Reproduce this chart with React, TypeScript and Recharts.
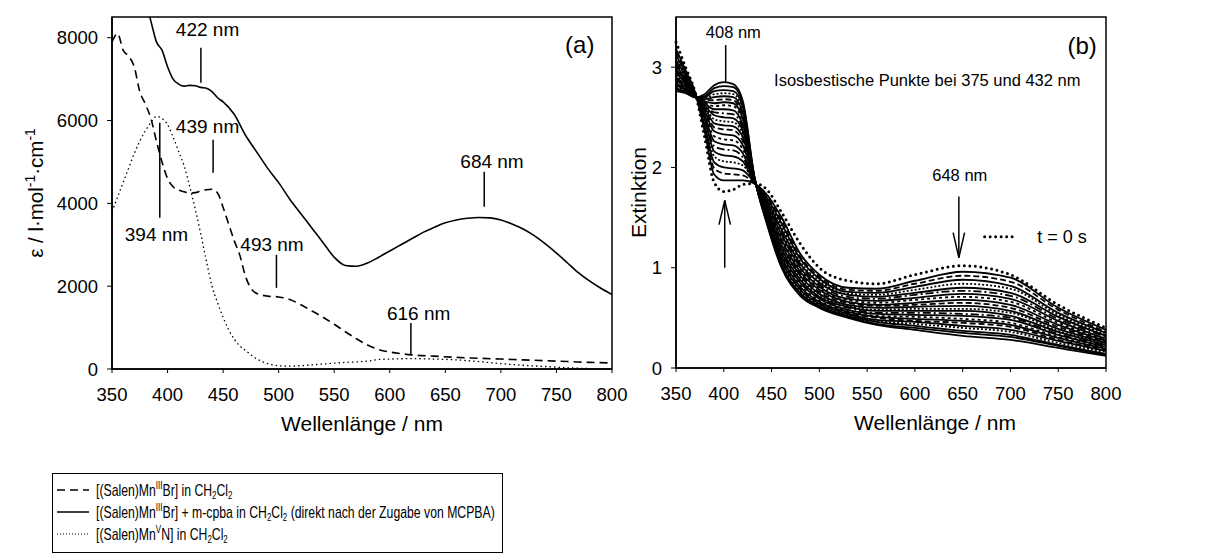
import { LineChart, Line, XAxis, YAxis, ReferenceLine, ReferenceDot, ReferenceArea, Label } from "recharts"

const FONT = '"Liberation Sans", Arial, Helvetica, sans-serif'

// ---- panel (a): molar absorptivity
const ticksA = [350, 400, 450, 500, 550, 600, 650, 700, 750, 800]
const ticksEps = [0, 2000, 4000, 6000, 8000]

const wlDashed = [350, 355, 360, 365, 370, 375, 380, 385, 390, 395, 400, 405, 410, 415, 420, 425, 430, 435, 440, 445, 450, 455, 460, 465, 470, 475, 480, 490, 500, 510, 520, 530, 540, 550, 560, 570, 580, 590, 600, 610, 620, 640, 660, 680, 700, 720, 740, 760, 780, 800]
const epsDashed = [7900, 8100, 7700, 7550, 7300, 6700, 6400, 6050, 5500, 5000, 4600, 4400, 4320, 4280, 4250, 4260, 4300, 4330, 4340, 4250, 3900, 3500, 3100, 2750, 2250, 1950, 1830, 1760, 1740, 1680, 1550, 1400, 1250, 1080, 900, 730, 580, 470, 410, 370, 340, 310, 280, 260, 240, 220, 200, 180, 160, 145]

const wlSolid = [380, 385, 390, 395, 400, 405, 410, 415, 420, 425, 430, 435, 440, 445, 450, 460, 470, 480, 490, 500, 510, 520, 530, 540, 550, 560, 570, 580, 590, 600, 610, 620, 630, 640, 650, 660, 670, 680, 690, 700, 710, 720, 730, 740, 750, 760, 770, 780, 790, 800]
const epsSolid = [8900, 8400, 7900, 7700, 7300, 7000, 6880, 6830, 6850, 6840, 6800, 6780, 6700, 6550, 6450, 6150, 5650, 5250, 4850, 4500, 4100, 3750, 3400, 3050, 2700, 2500, 2480, 2560, 2700, 2850, 3000, 3150, 3300, 3420, 3530, 3600, 3640, 3660, 3650, 3600, 3500, 3380, 3220, 3020, 2800, 2560, 2320, 2120, 1950, 1800]

const wlDotted = [350, 355, 360, 365, 370, 375, 380, 385, 390, 395, 400, 405, 410, 415, 420, 425, 430, 435, 440, 445, 450, 455, 460, 465, 470, 480, 490, 500, 510, 520, 530, 540, 550, 560, 570, 580, 590, 600, 620, 640, 660, 680, 700, 720, 740, 760, 780, 800]
const epsDotted = [3800, 4150, 4500, 4850, 5200, 5500, 5750, 5950, 6100, 6050, 5900, 5600, 5250, 4900, 4400, 3850, 3250, 2600, 2000, 1600, 1250, 950, 720, 560, 450, 250, 130, 80, 70, 80, 100, 120, 140, 160, 170, 190, 230, 240, 250, 240, 220, 180, 130, 90, 60, 30, 10, 0]

// peak marks in (a): label position, tick line x, line top / bottom
const marksA = [
  { text: "422 nm", tx: 436, ty: 8197, lx: 430, y1: 7760, y2: 6915 },
  { text: "439 nm", tx: 436, ty: 5852, lx: 441, y1: 5537, y2: 4740 },
  { text: "394 nm", tx: 390, ty: 3264, lx: 393, y1: 5948, y2: 3651 },
  { text: "493 nm", tx: 494, ty: 3022, lx: 498, y1: 2757, y2: 1959 },
  { text: "616 nm", tx: 626, ty: 1354, lx: 619, y1: 1112, y2: 339 },
  { text: "684 nm", tx: 692, ty: 5005, lx: 685, y1: 4764, y2: 3917 },
]

// ---- panel (b): spectra recorded over time
const ticksB = [350, 400, 450, 500, 550, 600, 650, 700, 750, 800]
const ticksExt = [0, 1, 2, 3]
const wlB = [350, 360, 370, 380, 390, 400, 410, 420, 432, 445, 460, 480, 500, 530, 560, 600, 650, 700, 750, 800]
// t = 0 spectrum (dotted)
const extT0 = [3.25, 3.0, 2.75, 2.3, 1.85, 1.76, 1.78, 1.83, 1.84, 1.78, 1.56, 1.24, 1.0, 0.87, 0.84, 0.93, 1.02, 0.93, 0.63, 0.4]
// later spectra, one list per wavelength of wlB (first spectrum -> last spectrum)
const extLater = [
  [3.18, 3.15, 3.12, 3.1, 3.07, 3.05, 3.02, 3.0, 2.98, 2.96, 2.94, 2.92, 2.9, 2.89, 2.87, 2.86, 2.84, 2.83, 2.82, 2.8, 2.79, 2.78, 2.76],
  [2.97, 2.95, 2.94, 2.92, 2.91, 2.9, 2.88, 2.87, 2.86, 2.85, 2.84, 2.83, 2.82, 2.81, 2.8, 2.79, 2.78, 2.78, 2.77, 2.76, 2.75, 2.75, 2.74],
  [2.75, 2.75, 2.74, 2.74, 2.74, 2.73, 2.73, 2.73, 2.73, 2.72, 2.72, 2.72, 2.72, 2.71, 2.71, 2.71, 2.71, 2.71, 2.7, 2.7, 2.7, 2.7, 2.7],
  [2.36, 2.39, 2.42, 2.45, 2.48, 2.5, 2.52, 2.54, 2.56, 2.58, 2.6, 2.61, 2.62, 2.63, 2.64, 2.65, 2.66, 2.67, 2.68, 2.69, 2.7, 2.71, 2.73],
  [1.93, 1.99, 2.05, 2.11, 2.16, 2.21, 2.26, 2.31, 2.36, 2.4, 2.44, 2.48, 2.52, 2.55, 2.58, 2.61, 2.64, 2.67, 2.7, 2.73, 2.76, 2.79, 2.82],
  [1.87, 1.94, 2.0, 2.06, 2.12, 2.18, 2.23, 2.28, 2.33, 2.38, 2.42, 2.46, 2.5, 2.54, 2.58, 2.62, 2.65, 2.68, 2.71, 2.74, 2.77, 2.81, 2.85],
  [1.87, 1.93, 1.99, 2.05, 2.11, 2.17, 2.22, 2.27, 2.32, 2.37, 2.41, 2.45, 2.49, 2.53, 2.57, 2.61, 2.64, 2.67, 2.7, 2.73, 2.76, 2.8, 2.83],
  [1.87, 1.92, 1.97, 2.02, 2.06, 2.1, 2.14, 2.18, 2.22, 2.26, 2.3, 2.33, 2.36, 2.39, 2.42, 2.45, 2.48, 2.51, 2.54, 2.57, 2.6, 2.63, 2.66],
  [1.84, 1.84, 1.85, 1.85, 1.85, 1.86, 1.86, 1.86, 1.87, 1.87, 1.87, 1.88, 1.88, 1.88, 1.89, 1.89, 1.89, 1.9, 1.9, 1.9, 1.9, 1.91, 1.91],
  [1.73, 1.71, 1.7, 1.68, 1.67, 1.65, 1.64, 1.62, 1.61, 1.6, 1.58, 1.57, 1.56, 1.54, 1.53, 1.52, 1.51, 1.5, 1.49, 1.48, 1.47, 1.45, 1.44],
  [1.51, 1.48, 1.45, 1.42, 1.39, 1.36, 1.34, 1.31, 1.29, 1.26, 1.24, 1.22, 1.2, 1.18, 1.16, 1.14, 1.12, 1.1, 1.08, 1.06, 1.04, 1.03, 1.01],
  [1.14, 1.11, 1.09, 1.06, 1.04, 1.02, 1.0, 0.98, 0.96, 0.94, 0.92, 0.9, 0.88, 0.86, 0.85, 0.83, 0.81, 0.8, 0.78, 0.77, 0.75, 0.74, 0.72],
  [0.93, 0.91, 0.89, 0.87, 0.85, 0.83, 0.81, 0.79, 0.78, 0.76, 0.74, 0.73, 0.71, 0.7, 0.69, 0.67, 0.66, 0.65, 0.64, 0.63, 0.62, 0.61, 0.6],
  [0.8, 0.78, 0.76, 0.74, 0.73, 0.71, 0.69, 0.68, 0.66, 0.65, 0.63, 0.62, 0.61, 0.6, 0.58, 0.57, 0.56, 0.55, 0.54, 0.53, 0.52, 0.51, 0.5],
  [0.79, 0.77, 0.75, 0.73, 0.71, 0.69, 0.67, 0.65, 0.63, 0.62, 0.6, 0.58, 0.57, 0.55, 0.54, 0.52, 0.51, 0.5, 0.48, 0.47, 0.46, 0.44, 0.43],
  [0.87, 0.84, 0.81, 0.78, 0.75, 0.73, 0.7, 0.68, 0.65, 0.63, 0.61, 0.59, 0.57, 0.55, 0.53, 0.51, 0.49, 0.47, 0.46, 0.44, 0.42, 0.4, 0.38],
  [0.96, 0.92, 0.88, 0.84, 0.8, 0.77, 0.74, 0.71, 0.68, 0.65, 0.62, 0.59, 0.57, 0.54, 0.52, 0.49, 0.47, 0.45, 0.42, 0.4, 0.37, 0.35, 0.32],
  [0.9, 0.86, 0.82, 0.79, 0.75, 0.72, 0.69, 0.66, 0.63, 0.6, 0.57, 0.55, 0.52, 0.5, 0.48, 0.45, 0.43, 0.41, 0.38, 0.36, 0.33, 0.31, 0.28],
  [0.6, 0.58, 0.55, 0.53, 0.51, 0.49, 0.47, 0.45, 0.43, 0.41, 0.39, 0.37, 0.36, 0.34, 0.33, 0.31, 0.3, 0.28, 0.27, 0.25, 0.23, 0.22, 0.2],
  [0.38, 0.36, 0.35, 0.33, 0.32, 0.31, 0.29, 0.28, 0.27, 0.26, 0.25, 0.24, 0.23, 0.22, 0.21, 0.2, 0.19, 0.18, 0.17, 0.16, 0.14, 0.13, 0.12],
]
const dashCycle = ["", "6 3", "", "2 2", "", "8 3 2 3", "", "3 3", "", "6 3", "", "2 2", "", "8 3 2 3", "", "3 3", "", "6 3", "", "2 2", "", "", ""]

const zip = (xs: number[], ys: number[]) => xs.map((x, i) => ({ x, y: ys[i] }))

const nLater = extLater[0].length
const dataB = wlB.map((wl, i) => {
  const row: Record<string, number> = { wl, t0: extT0[i] }
  extLater[i].forEach((v, k) => (row["c" + k] = v))
  return row
})

const seriesA = [
  { key: "dashed", data: zip(wlDashed, epsDashed), dash: "8 5", width: 1.6 },
  { key: "solid", data: zip(wlSolid, epsSolid), dash: "", width: 1.6 },
  { key: "dotted", data: zip(wlDotted, epsDotted), dash: "1.5 3", width: 1.3 },
]

const tickStyle = { fill: "#000", fontSize: 18.5 }

function EpsTitle({ viewBox }: any) {
  const cx = viewBox.x - 9
  const cy = viewBox.y + viewBox.height / 2
  return (
    <text x={cx} y={cy} transform={`rotate(-90 ${cx} ${cy})`} textAnchor="middle" fontSize={20.5} fill="#000">
      ε / l·mol<tspan dy={-8} fontSize={14}>-1</tspan>
      <tspan dy={8}>·cm</tspan>
      <tspan dy={-8} fontSize={14}>-1</tspan>
    </text>
  )
}

function ExtTitle({ viewBox }: any) {
  const cx = viewBox.x + 10
  const cy = viewBox.y + viewBox.height / 2
  return (
    <text x={cx} y={cy} transform={`rotate(-90 ${cx} ${cy})`} textAnchor="middle" fontSize={21} fill="#000">
      Extinktion
    </text>
  )
}

function XTitle({ viewBox, shift }: any) {
  return (
    <text x={viewBox.x + viewBox.width / 2 + shift} y={viewBox.y + 62} textAnchor="middle" fontSize={21} fill="#000">
      Wellenlänge / nm
    </text>
  )
}

const supStyle = { fontSize: 11, verticalAlign: "7px", lineHeight: 0 }
const subStyle = { fontSize: 11, verticalAlign: "-3px", lineHeight: 0 }

function Legend() {
  const labels = [
    <>[(Salen)Mn<span style={supStyle}>III</span>Br] in CH<span style={subStyle}>2</span>Cl<span style={subStyle}>2</span></>,
    <>[(Salen)Mn<span style={supStyle}>III</span>Br] + m-cpba in CH<span style={subStyle}>2</span>Cl<span style={subStyle}>2</span> (direkt nach der Zugabe von MCPBA)</>,
    <>[(Salen)Mn<span style={supStyle}>V</span>N] in CH<span style={subStyle}>2</span>Cl<span style={subStyle}>2</span></>,
  ]
  return (
    <div
      style={{
        position: "absolute", left: 52, top: 473, width: 451, height: 80,
        border: "1.5px solid #000", fontSize: 17, boxSizing: "border-box", paddingTop: 5,
      }}
    >
      {seriesA.map((s, i) => (
        <div key={s.key} style={{ display: "flex", alignItems: "center", height: 22, whiteSpace: "nowrap" }}>
          <svg width={32} height={10} style={{ marginLeft: 4, marginRight: 7, flex: "none" }}>
            <line x1={0} y1={5} x2={32} y2={5} stroke="#000" strokeWidth={s.key === "dotted" ? 1 : 1.5} strokeDasharray={s.key === "dotted" ? "1 2" : s.dash} />
          </svg>
          <span style={{ display: "inline-block", transform: "scaleX(0.72)", transformOrigin: "left center", lineHeight: "17px" }}>{labels[i]}</span>
        </div>
      ))}
    </div>
  )
}

export default function App() {
  return (
    <div style={{ position: "absolute", left: 0, top: 0, width: 1207, height: 558, background: "#fff", fontFamily: FONT, overflow: "hidden" }}>
      <div style={{ position: "absolute", left: 0, top: 0 }}>
        <LineChart width={640} height={440} margin={{ top: 17, right: 28, left: 52, bottom: 41 }}>
          <XAxis
            type="number" dataKey="x" domain={[350, 800]} ticks={ticksA} allowDataOverflow
            tick={tickStyle} tickSize={4} tickMargin={15} height={30}
            axisLine={{ stroke: "#000", strokeWidth: 1.5 }} tickLine={{ stroke: "#000" }}
          >
            <Label content={(p: any) => <XTitle {...p} shift={0} />} />
          </XAxis>
          <YAxis
            type="number" dataKey="y" domain={[0, 8500]} ticks={ticksEps} allowDataOverflow
            tick={tickStyle} tickSize={5} tickMargin={9} width={60}
            axisLine={{ stroke: "#000", strokeWidth: 1.5 }} tickLine={{ stroke: "#000" }}
          >
            <Label content={(p: any) => <EpsTitle {...p} />} />
          </YAxis>
          <ReferenceArea x1={350} x2={800} y1={0} y2={8500} fill="none" stroke="#000" strokeWidth={1.5} />
          {seriesA.map((s) => (
            <Line
              key={s.key} data={s.data} dataKey="y" type="monotone" stroke="#000" strokeWidth={s.width}
              strokeDasharray={s.dash || undefined} dot={false} isAnimationActive={false}
            />
          ))}
          {marksA.map((m) => (
            <ReferenceLine key={"l" + m.text} segment={[{ x: m.lx, y: m.y1 }, { x: m.lx, y: m.y2 }]} stroke="#000" strokeWidth={1.5} />
          ))}
          {marksA.map((m) => (
            <ReferenceDot
              key={"t" + m.text} x={m.tx} y={m.ty} r={0} fill="none" stroke="none"
              label={{ value: m.text, position: "center", fontSize: 19, fill: "#000" }}
            />
          ))}
          <ReferenceDot x={771} y={7834} r={0} fill="none" stroke="none" label={{ value: "(a)", position: "center", fontSize: 24, fill: "#000" }} />
        </LineChart>
      </div>

      <div style={{ position: "absolute", left: 600, top: 0 }}>
        <LineChart width={607} height={440} data={dataB} margin={{ top: 17, right: 101, left: 36, bottom: 42 }}>
          <XAxis
            type="number" dataKey="wl" domain={[350, 800]} ticks={ticksB}
            tick={tickStyle} tickSize={4} tickMargin={15} height={30}
            axisLine={{ stroke: "#000", strokeWidth: 1.5 }} tickLine={{ stroke: "#000" }}
          >
            <Label content={(p: any) => <XTitle {...p} shift={44} />} />
          </XAxis>
          <YAxis
            type="number" domain={[0, 3.5]} ticks={ticksExt}
            tick={tickStyle} tickSize={5} tickMargin={9} width={40}
            axisLine={{ stroke: "#000", strokeWidth: 1.5 }} tickLine={{ stroke: "#000" }}
          >
            <Label content={(p: any) => <ExtTitle {...p} />} />
          </YAxis>
          <ReferenceArea x1={350} x2={800} y1={0} y2={3.5} fill="none" stroke="#000" strokeWidth={1.5} />
          {Array.from({ length: nLater }, (_, k) => (
            <Line
              key={"c" + k} dataKey={"c" + k} type="monotone" stroke="#000" strokeWidth={1.8}
              strokeDasharray={dashCycle[k] || undefined} dot={false} isAnimationActive={false}
            />
          ))}
          <Line dataKey="t0" type="monotone" stroke="#000" strokeWidth={3} strokeDasharray="0 5.5" strokeLinecap="round" dot={false} isAnimationActive={false} />

          <ReferenceLine segment={[{ x: 402, y: 3.22 }, { x: 402, y: 2.85 }]} stroke="#000" strokeWidth={1.5} />
          <ReferenceDot x={410} y={3.35} r={0} fill="none" stroke="none" label={{ value: "408 nm", position: "center", fontSize: 16.5, fill: "#000" }} />

          <ReferenceLine segment={[{ x: 401, y: 1.0 }, { x: 401, y: 1.67 }]} stroke="#000" strokeWidth={1.5} />
          <ReferenceLine segment={[{ x: 395, y: 1.43 }, { x: 401, y: 1.67 }]} stroke="#000" strokeWidth={1.5} />
          <ReferenceLine segment={[{ x: 407, y: 1.43 }, { x: 401, y: 1.67 }]} stroke="#000" strokeWidth={1.5} />

          <ReferenceLine segment={[{ x: 646, y: 1.71 }, { x: 646, y: 1.1 }]} stroke="#000" strokeWidth={1.5} />
          <ReferenceLine segment={[{ x: 640, y: 1.35 }, { x: 646, y: 1.1 }]} stroke="#000" strokeWidth={1.5} />
          <ReferenceLine segment={[{ x: 652, y: 1.35 }, { x: 646, y: 1.1 }]} stroke="#000" strokeWidth={1.5} />
          <ReferenceDot x={647} y={1.92} r={0} fill="none" stroke="none" label={{ value: "648 nm", position: "center", fontSize: 16.5, fill: "#000" }} />

          <ReferenceDot x={613} y={2.87} r={0} fill="none" stroke="none" label={{ value: "Isosbestische Punkte bei 375 und 432 nm", position: "center", fontSize: 16.5, fill: "#000" }} />

          <ReferenceLine segment={[{ x: 673, y: 1.31 }, { x: 704, y: 1.31 }]} stroke="#000" strokeWidth={3} strokeDasharray="0 5.5" strokeLinecap="round" />
          <ReferenceDot x={754} y={1.31} r={0} fill="none" stroke="none" label={{ value: "t = 0 s", position: "center", fontSize: 18, fill: "#000" }} />

          <ReferenceDot x={775} y={3.22} r={0} fill="none" stroke="none" label={{ value: "(b)", position: "center", fontSize: 24, fill: "#000" }} />
        </LineChart>
      </div>

      <Legend />
    </div>
  )
}
